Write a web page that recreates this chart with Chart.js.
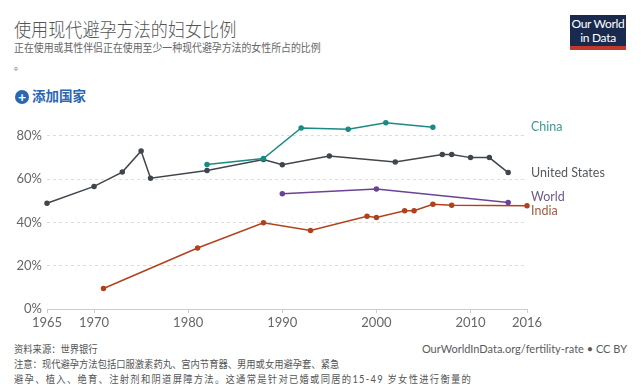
<!DOCTYPE html>
<html>
<head>
<meta charset="utf-8">
<script src="https://cdn.jsdelivr.net/npm/chart.js@4"></script>
<style>
  body { margin: 0; width: 641px; height: 392px; background: #fff; overflow: hidden; position: relative;
         font-family: Lato, "Noto Sans CJK SC", sans-serif; }
  .title { position: absolute; left: 14px; top: 15px; font-size: 19px; color: #555; font-weight: 300;
           transform: scaleX(0.9); transform-origin: 0 0; white-space: nowrap; }
  .sub { position: absolute; left: 14px; top: 39px; font-size: 11.5px; color: #666; line-height: 18px;
         transform: scaleX(0.86); transform-origin: 0 0; white-space: nowrap; }
  .add { position: absolute; left: 15px; top: 85px; font-size: 13.5px; font-weight: bold; color: #2a66b1; }
  .add span.plus { display: inline-block; width: 14px; height: 14px; border-radius: 50%; background: #2a66b1;
                   color: #fff; text-align: center; line-height: 14px; font-size: 14px; margin-right: 3px; vertical-align: -1px; }
  .logo { position: absolute; left: 570px; top: 15px; width: 56px; height: 35px; background: #1a2a4f;
          border-bottom: 4px solid #c0392b; color: #fff; font-size: 12px; line-height: 14px; text-align: center;
          padding-top: 2px; box-sizing: border-box; letter-spacing: -0.3px; }
  #wrap { position: absolute; left: 0; top: 110px; width: 641px; height: 225px; }
  .foot { position: absolute; left: 14px; top: 342px; font-size: 10.5px; color: #555; line-height: 15px;
          transform: scaleX(0.885); transform-origin: 0 0; white-space: nowrap; }
  .foot .l3 { letter-spacing: 1.45px; }
  .url { position: absolute; right: 14px; top: 342px; font-size: 11px; color: #5b5b5b; }
</style>
</head>
<body>
<div class="title">使用现代避孕方法的妇女比例</div>
<div class="sub">正在使用或其性伴侣正在使用至少一种现代避孕方法的女性所占的比例<br>。</div>
<div class="add"><span class="plus">+</span>添加国家</div>
<div class="logo">Our World<br>in Data</div>
<div id="wrap"><canvas id="c" width="641" height="225"></canvas></div>
<div class="foot">资料来源：世界银行<br>注意：现代避孕方法包括口服激素药丸、宫内节育器、男用或女用避孕套、紧急<br><span class="l3">避孕、植入、绝育、注射剂和阴道屏障方法。这通常是针对已婚或同居的15-49 岁女性进行衡量的</span><br>。</div>
<div class="url">OurWorldInData.org/fertility-rate • CC BY</div>
<script>
// values (percent)
const usYears = [1965, 1970, 1973, 1975, 1976, 1982, 1988, 1990, 1995, 2002, 2007, 2008, 2010, 2012, 2014];
const usValues = [48.9, 56.7, 63.3, 73.1, 60.5, 64.0, 69.1, 66.7, 70.7, 68.0, 71.4, 71.4, 70.0, 70.0, 63.1];

const chinaYears = [1982, 1988, 1992, 1997, 2001, 2006];
const chinaValues = [66.8, 69.6, 83.7, 83.1, 86.1, 84.0];

const worldYears = [1990, 2000, 2014];
const worldValues = [53.3, 55.5, 49.3];

const indiaYears = [1971, 1981, 1988, 1993, 1999, 2000, 2003, 2004, 2006, 2008, 2016];
const indiaValues = [9.5, 28.2, 39.9, 36.3, 42.9, 42.3, 45.4, 45.4, 48.4, 48.0, 47.7];

const xTicks = [1965, 1970, 1980, 1990, 2000, 2010, 2016];
const yTicks = [0, 20, 40, 60, 80];

const series = [
  { name: 'China', years: chinaYears, values: chinaValues, color: '#1a8a82', label: '#3f9a93' },
  { name: 'United States', years: usYears, values: usValues, color: '#41464c', label: '#555a60' },
  { name: 'World', years: worldYears, values: worldValues, color: '#6a4394', label: '#6d5a8a' },
  { name: 'India', years: indiaYears, values: indiaValues, color: '#b0421c', label: '#a55a3e' }
];

const endLabels = {
  id: 'endLabels',
  afterDatasetsDraw(chart) {
    const { ctx, chartArea, scales } = chart;
    const items = chart.data.datasets.map(ds => ({
      text: ds.label, color: ds.labelColor,
      y: scales.y.getPixelForValue(ds.data[ds.data.length - 1].y)
    })).sort((a, b) => a.y - b.y);
    // push apart overlapping labels
    const gap = 14;
    for (let k = 0; k < 10; k++) {
      for (let i = 1; i < items.length; i++) {
        const d = items[i].y - items[i - 1].y;
        if (d < gap) {
          const s = (gap - d) / 2;
          items[i].y += s;
          items[i - 1].y -= s;
        }
      }
    }
    ctx.save();
    ctx.font = '12.5px Lato, sans-serif';
    ctx.textBaseline = 'middle';
    items.forEach(it => {
      ctx.fillStyle = it.color;
      ctx.fillText(it.text, chartArea.right + 4, it.y);
    });
    ctx.restore();
  }
};

new Chart(document.getElementById('c'), {
  type: 'line',
  data: {
    datasets: series.map(s => ({
      label: s.name,
      labelColor: s.label,
      data: s.years.map((yr, i) => ({ x: yr, y: s.values[i] })),
      borderColor: s.color,
      backgroundColor: s.color,
      borderWidth: 1.5,
      pointRadius: 2,
      pointHoverRadius: 2,
      tension: 0,
      clip: false
    }))
  },
  options: {
    responsive: false,
    animation: false,
    events: [],
    layout: { padding: { top: 12, right: 114, left: 0, bottom: 0 } },
    plugins: { legend: { display: false }, tooltip: { enabled: false } },
    scales: {
      x: {
        type: 'linear', min: 1965, max: 2016,
        afterBuildTicks: scale => { scale.ticks = xTicks.map(v => ({ value: v })); },
        afterFit: scale => { scale.height = 26; },
        grid: { drawOnChartArea: false, drawTicks: true, tickLength: 4, color: '#ccc' },
        border: { color: '#ccc' },
        ticks: { color: '#666', font: { family: 'Lato', size: 13 }, padding: 2, maxRotation: 0,
                 callback: v => String(v) }
      },
      y: {
        min: 0, max: 86.1,
        afterBuildTicks: scale => { scale.ticks = yTicks.map(v => ({ value: v })); },
        afterFit: scale => { scale.width = 47; },
        grid: { color: '#ddd', drawTicks: false },
        border: { display: false, dash: [3, 3] },
        ticks: { color: '#666', font: { family: 'Lato', size: 13 }, padding: 5,
                 callback: v => v + '%' }
      }
    }
  },
  plugins: [endLabels]
});
</script>
</body>
</html>
